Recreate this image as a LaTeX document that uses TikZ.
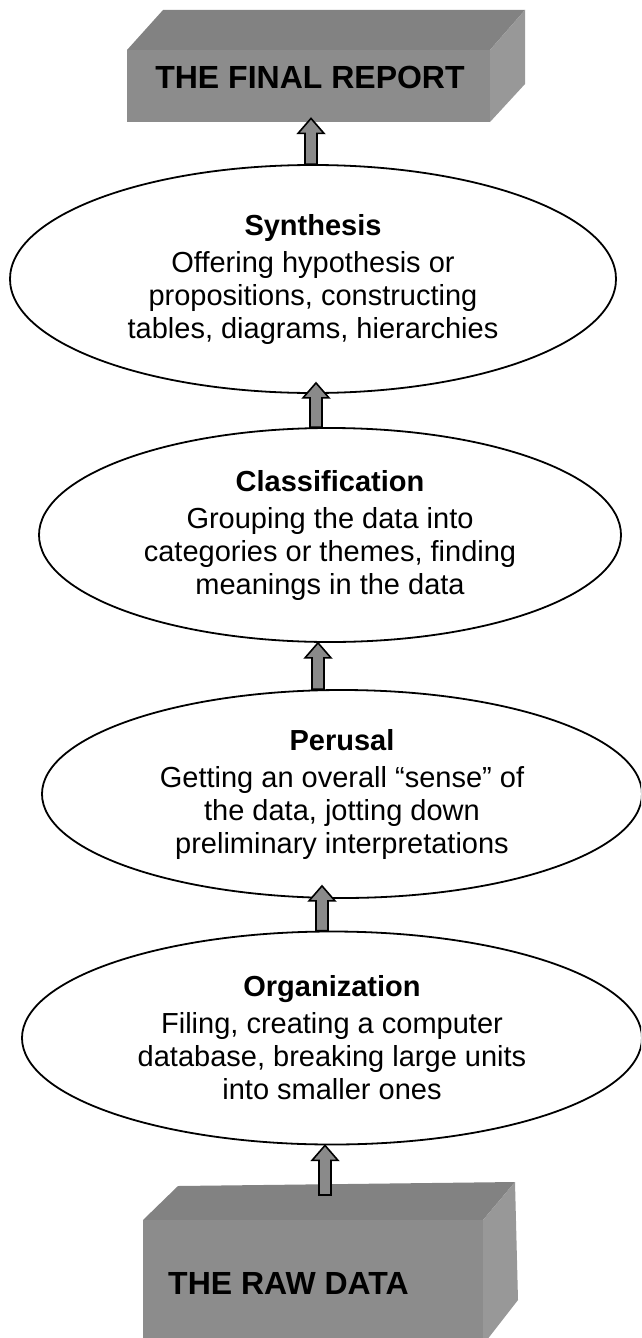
\documentclass[tikz,border=0pt]{standalone}
\usepackage{fontspec}
\setmainfont{Liberation Sans}
\usetikzlibrary{shapes.geometric,calc}
\definecolor{boxtop}{HTML}{828282}
\definecolor{boxfront}{HTML}{8C8C8C}
\definecolor{boxside}{HTML}{989898}
\definecolor{arrowgray}{HTML}{8A8A8A}
\newcommand\blockarr[3]{%
  \draw[blockarrow] let \p1=(#2), \p2=(#3), \p3=(#1,0) in
    (\x3-6pt,\y1) -- (\x3-6pt,\y2-15pt) -- (\x3-13pt,\y2-15pt) -- (\x3,\y2)
    -- (\x3+13pt,\y2-15pt) -- (\x3+6pt,\y2-15pt) -- (\x3+6pt,\y1) -- cycle;}
\begin{document}
\begin{tikzpicture}[x=1pt,y=-1pt,
  stage/.style={ellipse, draw=black, line width=1.8pt, fill=white, inner sep=0pt,
    align=center, font=\fontsize{29}{33}\selectfont},
  boxlabel/.style={font=\fontsize{32}{36}\selectfont\bfseries, inner sep=0pt, text=black},
  facebox/.style={fill=boxfront, inner sep=0pt, anchor=north west},
  blockarrow/.style={draw=black, line width=1.6pt, fill=arrowgray, line join=miter}]
\useasboundingbox (0,0) rectangle (641,1338);
\clip (0,0) rectangle (641,1338);
\fill[white] (0,0) rectangle (641,1338);

% top box
\fill[boxtop] (127,50) -- (163,10) -- (525,10) -- (490,50) -- cycle;
\fill[boxside] (490,50) -- (525,10) -- (525,84) -- (490,122) -- cycle;
\node[facebox, minimum width=363pt, minimum height=72pt] (reportbox) at (127,50) {};
\node[boxlabel] (report) at (310,77) {THE FINAL REPORT};

% bottom box
\fill[boxtop] (143,1220) -- (178,1186) -- (515,1182) -- (483,1220) -- cycle;
\fill[boxside] (483,1220) -- (515,1182) -- (518,1300) -- (483,1345) -- cycle;
\node[facebox, minimum width=340pt, minimum height=130pt] (rawbox) at (143,1220) {};
\node[boxlabel, anchor=west] (raw) at (168,1283) {THE RAW DATA};
\coordinate (rawtop) at (325,1195);

% stages
\node[stage, minimum width=606pt, minimum height=228pt] (synth) at (313,279)
  {\textbf{Synthesis}\\[4pt] Offering hypothesis or\\ propositions, constructing\\ tables, diagrams, hierarchies};
\node[stage, minimum width=582pt, minimum height=214pt] (class) at (330,535)
  {\textbf{Classification}\\[4pt] Grouping the data into\\ categories or themes, finding\\ meanings in the data};
\node[stage, minimum width=600pt, minimum height=208pt] (per) at (342,794)
  {\textbf{Perusal}\\[4pt] Getting an overall “sense” of\\ the data, jotting down\\ preliminary interpretations};
\node[stage, minimum width=620pt, minimum height=213pt] (org) at (332,1038)
  {\textbf{Organization}\\[4pt] Filing, creating a computer\\ database, breaking large units\\ into smaller ones};

% arrows
\blockarr{311}{synth.north}{$(reportbox.south)+(0,-4)$}
\blockarr{316}{class.north}{$(synth.south)+(0,-11)$}
\blockarr{318}{per.north}{class.south}
\blockarr{322}{org.north}{$(per.south)+(0,-13)$}
\blockarr{325}{rawtop}{org.south}
\end{tikzpicture}
\end{document}
